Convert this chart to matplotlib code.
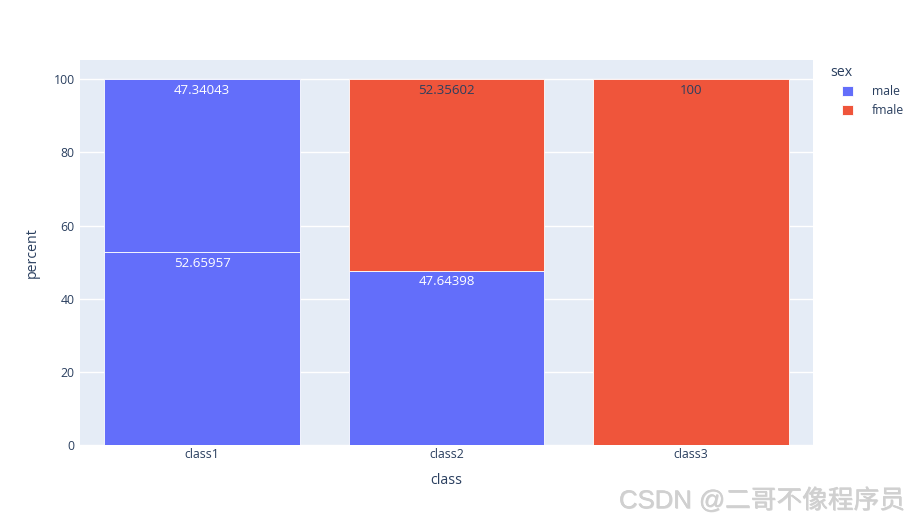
import matplotlib.pyplot as plt
import matplotlib.patheffects as pe
import numpy as np

# data
categories = ['class1', 'class2', 'class3']
male_class = ['class1', 'class1', 'class2']
male_pct = [52.65957, 47.34043, 47.64398]
fmale_class = ['class2', 'class3']
fmale_pct = [52.35602, 100]

MALE_COLOR = '#636EFA'
FMALE_COLOR = '#EF553B'
TEXT_COLOR = '#2a3f5f'
BG_COLOR = '#E5ECF6'

plt.rcParams['font.family'] = ['Open Sans', 'DejaVu Sans']

fig = plt.figure(figsize=(9.2, 5.25), dpi=100)
ax = fig.add_axes([0.087, 0.152, 0.797, 0.734])
ax.set_facecolor(BG_COLOR)

x_pos = {c: i for i, c in enumerate(categories)}
bottoms = {c: 0.0 for c in categories}


def draw_trace(cats, vals, color, txt_color, label):
    first = True
    for c, v in zip(cats, vals):
        x = x_pos[c]
        b = bottoms[c]
        ax.bar(x, v, bottom=b, width=0.8, color=color, edgecolor='white',
               linewidth=0.6, label=label if first else None, zorder=3)
        ax.annotate(f'{v:.10g}', xy=(x, b + v), xytext=(0, -3.3),
                    textcoords='offset points', ha='center', va='top',
                    fontsize=9.5, color=txt_color, zorder=4)
        bottoms[c] = b + v
        first = False


draw_trace(male_class, male_pct, MALE_COLOR, 'white', 'male')
draw_trace(fmale_class, fmale_pct, FMALE_COLOR, TEXT_COLOR, 'fmale')

ax.set_xlim(-0.5, len(categories) - 0.5)
ax.set_ylim(0, 105.26)
ax.set_xticks(range(len(categories)))
ax.set_xticklabels(categories)
ax.set_yticks(np.arange(0, 101, 20))
ax.tick_params(length=0, labelsize=8.8, colors=TEXT_COLOR)
ax.tick_params(axis='x', pad=2)
ax.tick_params(axis='y', pad=4)
ax.yaxis.grid(True, color='white', linewidth=1, zorder=0)
ax.set_axisbelow(True)
for s in ax.spines.values():
    s.set_visible(False)

ax.set_xlabel('class', fontsize=10.2, color=TEXT_COLOR, labelpad=9)
ax.set_ylabel('percent', fontsize=10.2, color=TEXT_COLOR, labelpad=10)

# legend: title drawn separately so the swatches can sit indented
fig.text(830 / 920, 1 - 72 / 525, 'sex', ha='left', va='center',
         fontsize=10.2, color=TEXT_COLOR)
leg = ax.legend(loc='upper left', bbox_to_anchor=(842 / 920, 1 - 85 / 525),
                bbox_transform=fig.transFigure, frameon=False,
                fontsize=8.8, handlelength=0.9, handleheight=0.9,
                handletextpad=1.55, labelspacing=0.5,
                borderaxespad=0, borderpad=0)
for t in leg.get_texts():
    t.set_color(TEXT_COLOR)

# watermark
fig.text(0.984, 0.047, 'CSDN @二哥不像程序员', ha='right', va='center',
         fontsize=18.5, color='#d0d0d0',
         family=['Liberation Sans', 'Noto Sans CJK SC', 'DejaVu Sans'],
         path_effects=[pe.withSimplePatchShadow(offset=(0.5, -0.5),
                                                shadow_rgbFace='#a8a8a8', alpha=0.45),
                       pe.Normal()])

plt.savefig('out.png', dpi=100)
